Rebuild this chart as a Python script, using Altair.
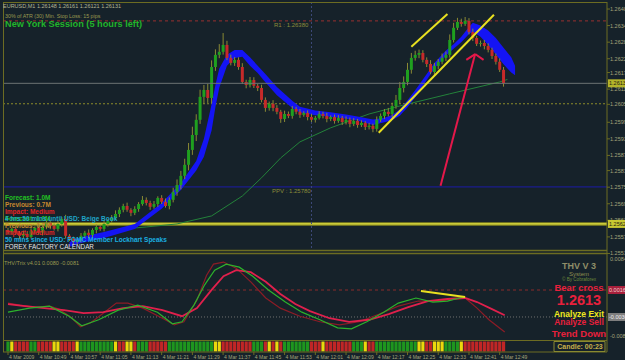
import altair as alt
import pandas as pd

# ---------------- DATA ----------------
# prices are stored as points above 1.25000 (1 point = 0.00001)
BASE = 1.25
PT = 1e-5

close_pts = [593, 604, 590, 579, 586, 575, 597, 608, 590, 611,
             626, 615, 604, 622, 640, 579, 568, 557, 564, 579,
             590, 582, 600, 611, 604, 622, 633, 644, 658, 673,
             687, 673, 662, 676, 694, 709, 698, 684, 694, 716,
             702, 687, 709, 738, 763, 796, 836, 890, 944, 999,
             1082, 1107, 1078, 1190, 1234, 1245, 1270, 1223, 1205, 1216,
             1190, 1136, 1125, 1143, 1122, 1114, 1071, 1042, 1057, 1042,
             1028, 1002, 1020, 1013, 1038, 1028, 1017, 1024, 1009, 999,
             1006, 1020, 1013, 1002, 1009, 995, 1006, 991, 999, 984,
             995, 980, 988, 973, 977, 966, 999, 1013, 1028, 1020,
             1049, 1071, 1114, 1136, 1180, 1223, 1234, 1241, 1216, 1201,
             1172, 1194, 1209, 1223, 1234, 1288, 1332, 1353, 1346, 1357,
             1317, 1295, 1274, 1277, 1266, 1252, 1230, 1209, 1180, 1131]
first_open_pts = 600
up_wick = [8, 5, 10, 6, 12, 7, 9, 5, 14, 8, 10, 6, 9, 12, 7,
           15, 6, 8, 5, 10, 7, 12, 6, 9, 8, 11, 7, 10, 13, 9,
           8, 12, 6, 10, 7, 14, 9, 8, 11, 6, 10, 12, 9, 15, 20,
           18, 22, 25, 30, 20, 26, 18, 22, 24, 20, 28, 43, 15, 12, 10,
           9, 14, 8, 11, 10, 7, 12, 9, 8, 13, 10, 7, 12, 9, 11,
           8, 10, 6, 9, 12, 7, 10, 8, 11, 6, 9, 10, 7, 12, 8,
           10, 7, 9, 6, 11, 8, 12, 9, 10, 14, 12, 18, 22, 20, 25,
           18, 15, 12, 10, 9, 14, 11, 10, 16, 12, 20, 18, 15, 12, 14,
           10, 12, 8, 9, 11, 10, 8, 9, 12, 10]
dn_wick = [7, 10, 6, 12, 8, 9, 6, 11, 7, 10, 8, 12, 6, 9, 10,
           10, 8, 12, 7, 9, 6, 10, 8, 12, 7, 9, 10, 6, 8, 11,
           9, 7, 12, 8, 10, 6, 9, 11, 7, 10, 8, 6, 12, 9, 14,
           16, 12, 20, 18, 22, 15, 25, 18, 20, 14, 12, 10, 8, 9, 11,
           10, 7, 12, 9, 8, 11, 9, 14, 10, 12, 9, 14, 11, 8, 10,
           9, 11, 7, 12, 8, 10, 6, 9, 12, 8, 10, 7, 11, 9, 12,
           8, 10, 7, 11, 9, 12, 10, 8, 11, 9, 12, 10, 14, 16, 12,
           14, 10, 12, 9, 11, 8, 10, 12, 9, 11, 10, 9, 8, 10, 7,
           9, 11, 8, 10, 12, 9, 11, 10, 8, 12]

band_idx = [16, 19, 25, 33, 40, 45, 49, 51, 53, 54, 55, 57, 59, 61, 63, 65, 67, 70, 74, 76,
            80, 84, 88, 91, 95, 98, 100, 102, 104, 106, 108, 111, 114, 116, 118, 120, 121,
            123, 125, 127, 129, 131, 132]
band_top = [557, 575, 593, 622, 698, 770, 850, 930, 1055, 1125, 1185, 1234, 1252, 1252, 1225,
            1195, 1165, 1118, 1068, 1046, 1033, 1026, 1018, 1011, 1000, 1006, 1016, 1036, 1070,
            1106, 1145, 1205, 1250, 1272, 1300, 1335, 1350, 1340, 1322, 1295, 1260, 1225, 1195]
band_bot = [539, 553, 571, 604, 677, 745, 815, 865, 960, 1045, 1115, 1195, 1223, 1227, 1195,
            1168, 1135, 1088, 1042, 1025, 1015, 1010, 1003, 996, 980, 990, 998, 1014, 1044,
            1080, 1122, 1185, 1232, 1256, 1280, 1310, 1318, 1300, 1270, 1235, 1200, 1170, 1160]

ma_idx = [30, 36, 44, 53, 61, 66, 71, 76, 84, 94, 102, 115, 128, 130]
ma_pts = [604, 611, 622, 651, 723, 789, 861, 919, 970, 1020, 1049, 1093, 1136, 1145]

strip_code = ["G", "Y", "R", "G", "R", "Y", "R", "Y", "G", "Y", "R", "Y", "R", "G", "R", "G",
              "Y", "R", "G", "R", "Y", "R", "Y", "R", "G", "R", "Y", "R", "G", "Y", "R", "G",
              "Y", "R", "Y", "G", "Y", "R"]
strip_len = [1, 1, 4, 2, 4, 2, 4, 1, 9, 1, 2, 2, 1, 3, 5, 12,
             2, 8, 3, 1, 1, 1, 1, 1, 7, 3, 1, 7, 3, 1, 2, 11,
             2, 2, 3, 4, 1, 11]

r1_pts, bid_pts, lvl2_pts, ppv_pts, yl_pts = 1357, 1131, 1057, 756, 622
session_idx = 79

trend_lo_idx, trend_lo_pts = [96.5, 126.5], [952, 1379]
trend_hi_idx, trend_hi_pts = [105.0, 114.4], [1263, 1382]
arrow_idx, arrow_pts = [112.6, 121.6], [760, 1237]
arrowl_idx, arrowl_pts = [119.3, 121.6], [1216, 1237]
arrowr_idx, arrowr_pts = [123.8, 121.6], [1216, 1237]

price_ticks = [1.26400, 1.26340, 1.26280, 1.26220, 1.26170, 1.26110, 1.26055, 1.25990,
               1.25930, 1.25870, 1.25815, 1.25755, 1.25695, 1.25635, 1.25575, 1.25515]
time_idx = [0, 8, 16, 24, 32, 40, 48, 56, 64, 72, 80, 88, 96, 104, 112, 120, 128]
time_labels = ["4 Mar 2009", "4 Mar 10:49", "4 Mar 10:57", "4 Mar 11:05", "4 Mar 11:13",
               "4 Mar 11:21", "4 Mar 11:29", "4 Mar 11:37", "4 Mar 11:45", "4 Mar 11:53",
               "4 Mar 12:01", "4 Mar 12:09", "4 Mar 12:17", "4 Mar 12:25", "4 Mar 12:33",
               "4 Mar 12:41", "4 Mar 12:49"]

# oscillator (units of 0.0001)
g_idx = [0, 5.6, 10.8, 15.9, 19.2, 23.6, 28.7, 33.8, 38.9, 42.8, 45.3, 48.4, 51.2, 53.8, 56.8,
         60.2, 63.7, 67.8, 72.2, 76.5, 81.2, 85.8, 89.4, 93.4, 97.8, 101.6, 106.2, 110.6,
         114.4, 117.5, 119]
g_val = [-27, -19, -15, -35, -54, -42, -23, -13, -27, -50, -46, -13, 27, 56, 68,
         62, 44, 17, -7, -27, -42, -58, -60, -46, -27, -9, 1, -7, -5, 1, 3]
c_idx = [0, 4.4, 9.5, 14.6, 19.7, 24.8, 30, 35.1, 40.2, 45.3, 49.2, 53, 56.1, 59.4, 63.2,
         67.1, 70.9, 74.8, 78.6, 83.7, 88.8, 94, 99.1, 104.2, 109.3, 114.4, 119, 122.1,
         126, 129.3]
c_val = [-11, -15, -19, -23, -29, -27, -19, -15, -23, -35, -19, 17, 44, 56, 52,
         33, 9, -11, -25, -39, -46, -42, -31, -17, -5, -1, 1, -7, -21, -33]
d_idx = [0, 3.1, 6.9, 10.8, 13.3, 16.4, 18.9, 21.5, 24.8, 28.2, 31.2, 35.1, 40.2, 43.3,
         45.8, 49.2, 51.7, 53.5, 56.1, 59.4, 63.2, 67.1, 70.9, 76, 81.2, 86.3, 91.4, 96.5,
         101.6, 106.8, 111.9, 117, 119, 122.1, 125.2, 129.3]
d_val = [-9, -13, -17, -15, -21, -37, -56, -48, -29, -9, -9, -19, -39, -52,
         -46, -3, 46, 68, 72, 60, 33, 1, -19, -35, -46, -52, -46, -31,
         -15, -5, -5, -1, 1, -19, -42, -66]
y_idx, y_val = [107.5, 119], [15, 3]
osc_hi_lvl, osc_lo_lvl = 0.00168, -0.00365

# ---------------- STYLE ----------------
BG = "#16222a"
OL = "#6c6c22"
LAB = "#a4a47a"
FONT = "Liberation Sans"

xs = alt.Scale(domain=[0, 154.63], range=[3, 607], nice=False, zero=False)
ys = alt.Scale(domain=[1.255276, 1.264254], range=[250, 2], nice=False, zero=False)
os_ = alt.Scale(domain=[-0.0082, 0.0084], range=[340, 256], nice=False, zero=False)

def X(f):
    return alt.X(f, scale=xs, axis=None)

def YP(f):
    return alt.Y(f, scale=ys, axis=None)

def YO(f):
    return alt.Y(f, scale=os_, axis=None)

dummy = pd.DataFrame({"a": [0]})
layers = []

def prule(x1, x2, y1, y2=None, color=OL, width=1, dash=None):
    kw = dict(color=color, strokeWidth=width)
    if dash:
        kw["strokeDash"] = dash
    enc = dict(x=alt.value(x1), y=alt.value(y1))
    if x2 is not None:
        enc["x2"] = alt.value(x2)
    if y2 is not None:
        enc["y2"] = alt.value(y2)
    return alt.Chart(dummy).mark_rule(**kw).encode(**enc)

def text(s, x, y, size, color, weight="normal", align="left"):
    return alt.Chart(dummy).mark_text(align=align, baseline="middle", font=FONT,
                                      fontSize=size, fontWeight=weight, color=color).encode(
        x=alt.value(x), y=alt.value(y), text=alt.value(s))

def hline(p, scale_fn, color, width=1, dash=None):
    kw = dict(color=color, strokeWidth=width)
    if dash:
        kw["strokeDash"] = dash
    return alt.Chart(pd.DataFrame({"p": [p]})).mark_rule(**kw).encode(
        y=scale_fn("p:Q"), x=alt.value(3), x2=alt.value(607))

# ---- candles frame
opens = [first_open_pts] + close_pts[:-1]
cdf = pd.DataFrame({"idx": list(range(len(close_pts))), "o": opens, "c": close_pts,
                    "uw": up_wick, "dw": dn_wick})
cdf["bt"] = BASE + cdf[["o", "c"]].max(axis=1) * PT
cdf["bb"] = BASE + cdf[["o", "c"]].min(axis=1) * PT
cdf["hi"] = cdf["bt"] + cdf["uw"] * PT
cdf["lo"] = cdf["bb"] - cdf["dw"] * PT
cdf["col"] = ["#1fa01f" if c >= o else "#c62a2a" for o, c in zip(cdf["o"], cdf["c"])]

# ---- levels (main)
layers.append(hline(BASE + r1_pts * PT, YP, "#9a3030", 1, [3, 3]))
layers.append(hline(BASE + lvl2_pts * PT, YP, "#8c8c2a", 1, [2, 2]))
layers.append(hline(BASE + ppv_pts * PT, YP, "#1c1ca8", 1))
layers.append(hline(BASE + yl_pts * PT, YP, "#8a8a20", 3.5))
layers.append(hline(BASE + yl_pts * PT, YP, "#e0e040", 1.2))
layers.append(alt.Chart(pd.DataFrame({"i": [session_idx]})).mark_rule(
    color="#3e4a7a", strokeDash=[2, 2]).encode(x=X("i:Q"), y=alt.value(2), y2=alt.value(250)))

# ---- green MA
ma_df = pd.DataFrame({"idx": ma_idx, "p": [BASE + v * PT for v in ma_pts]})
layers.append(alt.Chart(ma_df).mark_line(color="#23823a", strokeWidth=1).encode(
    x=X("idx:Q"), y=YP("p:Q")))

# ---- blue band
band_df = pd.DataFrame({"idx": band_idx, "t": [BASE + v * PT for v in band_top],
                        "b": [BASE + v * PT for v in band_bot]})
layers.append(alt.Chart(band_df).mark_area(color="#1414f4", opacity=1).encode(
    x=X("idx:Q"), y=YP("t:Q"), y2="b:Q"))

# ---- candles
layers.append(alt.Chart(cdf).mark_rule(color="#8a8a34", strokeWidth=1).encode(
    x=X("idx:Q"), y=YP("lo:Q"), y2="hi:Q"))
layers.append(alt.Chart(cdf).mark_bar(size=3).encode(
    x=X("idx:Q"), y=YP("bb:Q"), y2="bt:Q", color=alt.Color("col:N", scale=None)))

# ---- bid line
layers.append(hline(BASE + bid_pts * PT, YP, "#6c7474", 1))

# ---- trend lines & arrow
for ix, pv, col, w in [(trend_lo_idx, trend_lo_pts, "#e8e020", 2),
                       (trend_hi_idx, trend_hi_pts, "#e8e020", 2),
                       (arrow_idx, arrow_pts, "#e4184a", 2),
                       (arrowl_idx, arrowl_pts, "#e4184a", 2),
                       (arrowr_idx, arrowr_pts, "#e4184a", 2)]:
    d = pd.DataFrame({"idx": ix, "p": [BASE + v * PT for v in pv]})
    layers.append(alt.Chart(d).mark_line(color=col, strokeWidth=w).encode(
        x=X("idx:Q"), y=YP("p:Q")))

# ---- oscillator
layers.append(hline(osc_hi_lvl, YO, "#8a2a2a", 1, [3, 3]))
layers.append(hline(osc_lo_lvl, YO, "#707070", 1, [1, 2]))
for ix, vv, col, w in [(d_idx, d_val, "#8c1c26", 1.2),
                       (c_idx, c_val, "#e0204c", 1.8),
                       (g_idx, g_val, "#2cb22c", 1.2),
                       (y_idx, y_val, "#e8e020", 2)]:
    d = pd.DataFrame({"idx": ix, "v": [v * 1e-4 for v in vv]})
    layers.append(alt.Chart(d).mark_line(color=col, strokeWidth=w).encode(
        x=X("idx:Q"), y=YO("v:Q")))

# ---- colour strip
cmap = {"G": "#1e961e", "R": "#c02626", "Y": "#ecd80c"}
scol = []
for code, n in zip(strip_code, strip_len):
    scol += [cmap[code]] * n
sdf = pd.DataFrame({"idx": list(range(len(scol))), "col": scol})
sdf["x0"] = sdf["idx"] - 0.42
sdf["x1"] = sdf["idx"] + 0.42
layers.append(alt.Chart(sdf).mark_rect().encode(
    x=X("x0:Q"), x2="x1:Q", y=alt.value(341.5), y2=alt.value(351.5),
    color=alt.Color("col:N", scale=None)))

# ---- borders
layers += [
    prule(3, 607, 2.5),
    prule(3.5, None, 2, 352),
    prule(607, None, 2, 352),
    prule(3, 607, 250.5, width=1.5),
    prule(3, 607, 253.5, width=1.5),
    prule(3, 607, 340.5),
    prule(3, 607, 352),
]

# ---- price axis (right)
pt_df = pd.DataFrame({"p": price_ticks, "lab": [f"{v:.5f}" for v in price_ticks]})
layers.append(alt.Chart(pt_df).mark_rule(color=OL).encode(
    y=YP("p:Q"), x=alt.value(607), x2=alt.value(610)))
layers.append(alt.Chart(pt_df).mark_text(align="left", baseline="middle", font=FONT,
                                         fontSize=5.5, color=LAB).encode(
    y=YP("p:Q"), x=alt.value(610), text="lab:N"))

# value boxes on right
def vbox(val, scale_fn, bg, fg, lab):
    d = pd.DataFrame({"p": [val], "lab": [lab]})
    return [alt.Chart(d).mark_rule(color=bg, strokeWidth=8).encode(
                y=scale_fn("p:Q"), x=alt.value(608), x2=alt.value(625)),
            alt.Chart(d).mark_text(align="left", baseline="middle", font=FONT,
                                   fontSize=5.5, color=fg).encode(
                y=scale_fn("p:Q"), x=alt.value(609), text="lab:N")]

layers += vbox(BASE + bid_pts * PT, YP, "#b4b42a", "#1c1c10", "1.26131")
layers += vbox(BASE + yl_pts * PT, YP, "#c8c832", "#1c1c10", "1.25625")
layers += vbox(osc_hi_lvl, YO, "#a8203c", "#f0d0d0", "0.00168")
layers += vbox(osc_lo_lvl, YO, "#7e7e7e", "#eeeeee", "-0.00365")

osc_lab = pd.DataFrame({"v": [0.0084, -0.0082], "lab": ["0.0084", "-0.0082"]})
layers.append(alt.Chart(osc_lab.iloc[:1]).mark_text(align="left", baseline="top", font=FONT,
                                                   fontSize=5.5, color=LAB, dy=1).encode(
    y=YO("v:Q"), x=alt.value(610), text="lab:N"))
layers.append(alt.Chart(osc_lab.iloc[1:]).mark_text(align="left", baseline="bottom", font=FONT,
                                                   fontSize=5.5, color=LAB, dy=-1).encode(
    y=YO("v:Q"), x=alt.value(610), text="lab:N"))

# ---- time axis
tdf = pd.DataFrame({"idx": time_idx, "lab": time_labels})
layers.append(alt.Chart(tdf).mark_rule(color=OL).encode(
    x=X("idx:Q"), y=alt.value(352), y2=alt.value(355)))
layers.append(alt.Chart(tdf).mark_text(align="left", baseline="middle", font=FONT,
                                       fontSize=5, color=LAB, dx=1).encode(
    x=X("idx:Q"), y=alt.value(356.5), text="lab:N"))

# ---- annotation texts
layers += [
    text("EURUSD,M1  1.26148 1.26161 1.26121 1.26131", 3, 6, 5.5, "#b4b494"),
    text("30% of ATR (30)      Min. Stop Loss:    15 pips", 5, 15.5, 5.3, "#9a9a50"),
    text("New York Session (5 hours left)", 5, 24, 9.2, "#22b42a", "bold"),
    text("R1 : 1.26380", 274, 24.5, 6, "#8c8c3a"),
    text("PPV : 1.25780", 272, 191, 6, "#8c8c3a"),
    text("Forecast: 1.0M", 5, 198, 6.5, "#22c022", "bold"),
    text("Previous: 0.7M", 5, 205, 6.5, "#c8882e", "bold"),
    text("Impact: Medium", 5, 212, 6.5, "#e02424", "bold"),
    text("Forecast: 1.0M", 5, 219, 6.5, "#22c022", "bold"),
    text("4 hrs 50 mins until USD: Beige Book", 5, 219, 6.5, "#1fa6c8", "bold"),
    text("Previous: 0.7M", 5, 226, 6.5, "#c8882e", "bold"),
    text("Impact: Medium", 5, 233, 6.5, "#e02424", "bold"),
    text("50 mins since USD: FOMC Member Lockhart Speaks", 5, 240, 6.5, "#1ab0e0", "bold"),
    text("FOREX FACTORY CALENDAR", 5, 247, 6.3, "#e6e6e6"),
    text("THV/Trix v4.01 0.0080 -0.0081", 4, 263, 5.5, "#9a9a50"),
    text("THV V 3", 579, 266, 9, "#8e8e68", "bold", "center"),
    text("System", 579, 274, 6, "#8e8e50", "normal", "center"),
    text("\u00a9 By Cobraforex", 579, 280, 4.6, "#6e8a3a", "normal", "center"),
    text("Bear cross", 579, 287.5, 9.5, "#e8203c", "bold", "center"),
    text("1.2613", 579, 301, 14.5, "#e8203c", "bold", "center"),
    text("Analyze Exit", 579, 313.5, 8.5, "#f0e81e", "bold", "center"),
    text("Analyze Sell", 579, 322, 8.5, "#e8203c", "bold", "center"),
    text("Trend Down", 579, 334, 9.5, "#e8203c", "bold", "center"),
]
layers.append(alt.Chart(dummy).mark_rect(fill=BG, stroke="#8a8a30", strokeWidth=1).encode(
    x=alt.value(554), x2=alt.value(605), y=alt.value(341.5), y2=alt.value(351.5)))
layers.append(text("Candle:  00:23", 580, 346.5, 7, "#c8b04a", "bold", "center"))

chart = alt.layer(*layers).resolve_scale(y="independent").properties(
    width=625, height=360, background=BG, padding=0,
    autosize=alt.AutoSizeParams(type="none")
).configure_view(stroke=None)

chart.save("out.html", embed_options={"renderer": "svg", "actions": False})
